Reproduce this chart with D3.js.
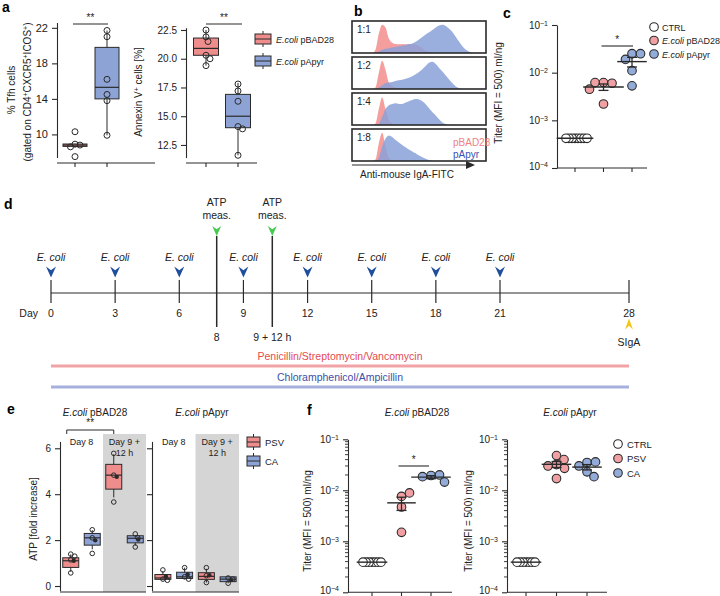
<!DOCTYPE html>
<html>
<head>
<meta charset="utf-8">
<script src="https://cdn.jsdelivr.net/npm/d3@7"></script>
<style>
  body { margin: 0; background: #fff; }
  text { font-family: "Liberation Sans", Arial, Helvetica, sans-serif; }
</style>
</head>
<body>
<svg id="fig" width="720" height="596"></svg>
<script>
// ---------- data ----------

// a: % Tfh cells and Annexin V+ cells (box stats + single mice)
var strainsA = ["pBAD28", "pApyr"];
var tfhTicks = [10, 14, 18, 22];
var tfhStats = [{lo: 8.6, q1: 8.65, med: 8.8, q3: 8.92, hi: 8.95},
                {lo: 9.9, q1: 14.0, med: 15.3, q3: 19.8, hi: 21.7}];
var tfhPBAD28 = [10.3, 8.9, 8.8, 8.6, 7.5];
var tfhPApyr = [21.7, 21.0, 16.2, 14.5, 13.8, 9.9];
var annTicks = [12.5, 15, 17.5, 20, 22.5];
var annStats = [{lo: 19.4, q1: 20.3, med: 20.9, q3: 21.8, hi: 22.5},
                {lo: 11.6, q1: 14.0, med: 15.0, q3: 16.9, hi: 17.9}];
var annPBAD28 = [22.5, 21.9, 21.5, 20.3, 20.0, 19.4];
var annPApyr = [17.8, 17.2, 16.3, 14.1, 13.9, 11.6];

// b: IgA-FITC histograms, relative height per intensity bin (0..40)
var dilutions = ["1:1", "1:2", "1:4", "1:8"];
var histPink11 = [0,0,0,0,0,0,0,0.1,0.6,0.88,0.8,0.45,0.32,0.28,0.27,0.28,0.27,0.28,0.27,0.26,0.22,0.15,0.08,0.04,0.02];
var histBlue11 = [0,0,0,0,0,0,0,0,0.05,0.1,0.13,0.15,0.17,0.19,0.21,0.23,0.25,0.27,0.3,0.35,0.42,0.5,0.58,0.65,0.72,0.8,0.86,0.88,0.84,0.76,0.65,0.5,0.35,0.2,0.1,0.04,0.01];
var histPink12 = [0,0,0,0,0,0,0,0.05,0.5,0.88,0.6,0.2,0.1,0.05];
var histBlue12 = [0,0,0,0,0,0,0,0,0.05,0.12,0.18,0.2,0.22,0.25,0.27,0.29,0.32,0.35,0.4,0.46,0.53,0.62,0.72,0.82,0.85,0.78,0.66,0.55,0.42,0.3,0.18,0.08,0.03];
var histPink14 = [0,0,0,0,0,0,0,0.05,0.5,0.86,0.5,0.15,0.05];
var histBlue14 = [0,0,0,0,0,0,0,0,0.05,0.25,0.5,0.62,0.66,0.68,0.66,0.66,0.7,0.74,0.78,0.81,0.8,0.74,0.65,0.52,0.4,0.3,0.18,0.08,0.03];
var histPink18 = [0,0,0,0,0,0,0,0.05,0.55,0.88,0.45,0.1,0.02];
var histBlue18 = [0,0,0,0,0,0,0,0,0.1,0.45,0.7,0.8,0.75,0.66,0.58,0.5,0.43,0.36,0.3,0.24,0.17,0.12,0.07,0.03,0.01];

// c: IgA titer, log scale
var titerTicks = [1e-4, 1e-3, 1e-2, 1e-1];
var groupsC = ["CTRL", "pBAD28", "pApyr"];
var titerCtrlC = [4.2e-4, 4.2e-4, 4.2e-4, 4.2e-4, 4.2e-4, 4.2e-4, 4.2e-4, 4.2e-4];
var titerPBAD28C = [6.2e-3, 6.0e-3, 6.2e-3, 4.5e-3, 2.2e-3];
var titerPApyrC = [2.5e-2, 2.5e-2, 1.9e-2, 1.1e-2, 5.3e-3];

// d: schedule
var dayTicks = [0, 3, 6, 9, 12, 15, 18, 21, 28];
var coliDays = [0, 3, 6, 9, 12, 15, 18, 21];
var atpDays = [7.75, 10.35];           // schematic spots of the two ATP measurements
var atpLabels = ["8", "9 + 12 h"];
var antibiotics = ["Penicillin/Streptomycin/Vancomycin", "Chloramphenicol/Ampicillin"];

// e: ATP fold increase, order: Day 8 PSV, Day 8 CA, Day 9+12h PSV, Day 9+12h CA
var dayGroups = ["Day 8", "Day 9 + 12 h"];
var dayLines = [["Day 8"], ["Day 9 +", "12 h"]];
var treatments = ["PSV", "CA"];
var atpTicks = [0, 2, 4, 6];
var atpStatsPBAD28 = [{lo: 0.62, q1: 0.81, med: 1.1, q3: 1.23, hi: 1.38},
                      {lo: 1.6, q1: 1.78, med: 2.1, q3: 2.29, hi: 2.43},
                      {lo: 3.86, q1: 4.22, med: 4.83, q3: 5.3, hi: 5.74},
                      {lo: 1.75, q1: 1.88, med: 2.08, q3: 2.19, hi: 2.22}];
var atpPtsPBAD28 = [[0.57, 1.39, 1.14, 1.3], [2.45, 2.1, 1.42], [5.78, 4.83, 3.66], [2.27, 2.1, 1.7]];
var atpStatsPApyr = [{lo: 0.25, q1: 0.29, med: 0.35, q3: 0.5, hi: 0.65},
                     {lo: 0.3, q1: 0.33, med: 0.4, q3: 0.6, hi: 0.8},
                     {lo: 0.15, q1: 0.29, med: 0.42, q3: 0.58, hi: 0.75},
                     {lo: 0.12, q1: 0.19, med: 0.3, q3: 0.4, hi: 0.42}];
var atpPtsPApyr = [[0.7, 0.3, 0.25], [0.8, 0.4, 0.3], [0.8, 0.45, 0.15], [0.35, 0.3, 0.12]];

// f: IgA titer after antibiotics
var groupsF = ["CTRL", "PSV", "CA"];
var titerCtrlF = [3.9e-4, 3.9e-4, 3.9e-4, 3.9e-4, 3.9e-4, 3.9e-4, 3.9e-4];
var titerPBAD28PSV = [7.6e-3, 8.9e-3, 4.7e-3, 1.5e-3];
var titerPBAD28CA = [1.95e-2, 2.0e-2, 1.85e-2, 1.45e-2];
var titerPApyrPSV = [4.8e-2, 4.0e-2, 3.2e-2, 3.0e-2, 2.7e-2, 1.7e-2];
var titerPApyrCA = [3.5e-2, 3.6e-2, 3.0e-2, 2.3e-2, 1.85e-2];

// ---------- styling ----------
var ink = "#2a2a2a";
var pinkFill = "#ef8d8d", blueFill = "#8ea3d5";
var pinkDot = "#f0a0a3", blueDot = "#93abd9";
var histPinkCol = "#f49494", histBlueCol = "#8aa1d8";

var svg = d3.select("#fig");

// ---------- helpers ----------
function rich(sel, parts) {
  parts.forEach(function(p) {
    var t = sel.append("tspan").text(p[0]);
    if (p[1] === "i") t.attr("font-style", "italic");
    if (p[1] === "s") t.attr("baseline-shift", "super").attr("font-size", "70%");
  });
  return sel;
}
function label(g, x, y, parts, size, anchor, color) {
  var t = g.append("text").attr("x", x).attr("y", y).attr("font-size", size || 10)
    .attr("text-anchor", anchor || "start").attr("fill", color || "#222");
  return rich(t, typeof parts === "string" ? [[parts]] : parts);
}
function vlabel(g, x, y, parts, size) {
  var t = g.append("text").attr("transform", "translate(" + x + "," + y + ") rotate(-90)")
    .attr("font-size", size || 10).attr("text-anchor", "middle").attr("fill", "#222");
  return rich(t, typeof parts === "string" ? [[parts]] : parts);
}
function letter(t, x, y) {
  svg.append("text").attr("x", x).attr("y", y).attr("font-size", 14).attr("font-weight", "bold").text(t);
}
function yAxis(g, x, axis, size) {
  var a = g.append("g").attr("transform", "translate(" + x + ",0)")
    .call(axis.tickSize(5).tickPadding(4).tickSizeOuter(0));
  a.attr("font-family", null).attr("font-size", size || 10);
  a.selectAll("path, line").attr("stroke", ink).attr("stroke-width", 1.1);
  a.selectAll("text").attr("fill", "#222");
  return a;
}
function logAxis(g, x, y, minor) {
  var a = yAxis(g, x, d3.axisLeft(y).tickValues(titerTicks).tickFormat(""));
  a.selectAll(".tick text").each(function(d, i) {
    var t = d3.select(this);
    if (i === 0) t.attr("dy", "0.1em");   // keep the lowest label inside the page
    rich(t, [["10"], ["\u2212" + Math.round(-Math.log10(d)), "s"]]);
  });
  if (minor) {
    var vals = [];
    titerTicks.slice(0, -1).forEach(function(k) { d3.range(2, 10).forEach(function(m) { vals.push(m * k); }); });
    a.selectAll(null).data(vals).join("line")
      .attr("x1", -3).attr("x2", 0).attr("y1", y).attr("y2", y)
      .attr("stroke", ink).attr("stroke-width", 0.9);
  }
  return a;
}
function xBase(g, x0, x1, y, ticks) {
  g.append("line").attr("x1", x0).attr("x2", x1).attr("y1", y).attr("y2", y)
    .attr("stroke", ink).attr("stroke-width", 1.1);
  g.selectAll(null).data(ticks).join("line")
    .attr("x1", function(d) { return d; }).attr("x2", function(d) { return d; })
    .attr("y1", y).attr("y2", y + 4).attr("stroke", ink).attr("stroke-width", 1.1);
}
// nudge points sideways until they clear the ones already placed
function swarm(ys, cx, gap) {
  var placed = [];
  return ys.map(function(y) {
    var off = 0, k = 0;
    while (placed.some(function(p) { return Math.hypot(p.x - (cx + off), p.y - y) < gap - 0.01; })) {
      k++;
      off = (k % 2 ? 1 : -1) * Math.ceil(k / 2) * 0.5;
    }
    var p = {x: cx + off, y: y};
    placed.push(p);
    return p;
  });
}
function drawBoxes(g, xs, y, stats, pts, fills, w, r, gap, meanDot) {
  stats.forEach(function(s, i) {
    var cx = xs[i];
    g.append("line").attr("x1", cx).attr("x2", cx).attr("y1", y(s.lo)).attr("y2", y(s.hi))
      .attr("stroke", ink).attr("stroke-width", 1);
    g.append("rect").attr("x", cx - w / 2).attr("y", y(s.q3)).attr("width", w)
      .attr("height", Math.max(1, y(s.q1) - y(s.q3)))
      .attr("fill", fills[i]).attr("stroke", ink).attr("stroke-width", 1);
    g.append("line").attr("x1", cx - w / 2).attr("x2", cx + w / 2).attr("y1", y(s.med)).attr("y2", y(s.med))
      .attr("stroke", ink).attr("stroke-width", 1.2);
    var pos = swarm(pts[i].map(y), cx, gap);
    g.selectAll(null).data(pos).join("circle")
      .attr("cx", function(d) { return d.x; }).attr("cy", function(d) { return d.y; })
      .attr("r", r).attr("fill", "none").attr("stroke", ink).attr("stroke-width", 1);
    if (meanDot) {
      g.append("circle").attr("cx", cx + 3).attr("cy", y(d3.mean(pts[i]))).attr("r", 2.2).attr("fill", ink);
    }
  });
}
function dotPlot(g, xs, y, groups, fills, r, gaps) {
  groups.forEach(function(vals, i) {
    var cx = xs[i];
    var pos = swarm(vals.map(y), cx, gaps[i]);
    g.selectAll(null).data(pos).join("circle")
      .attr("cx", function(d) { return d.x; }).attr("cy", function(d) { return d.y; })
      .attr("r", r).attr("fill", fills[i]).attr("stroke", ink).attr("stroke-width", 1.1);
    var m = d3.mean(vals), se = d3.deviation(vals) / Math.sqrt(vals.length);
    var half = Math.max(10, d3.max(pos, function(d) { return Math.abs(d.x - cx); }) + r + 2);
    g.append("line").attr("x1", cx - half).attr("x2", cx + half).attr("y1", y(m)).attr("y2", y(m))
      .attr("stroke", ink).attr("stroke-width", 1.4);
    if (se > 0) {
      g.append("line").attr("x1", cx).attr("x2", cx).attr("y1", y(m - se)).attr("y2", y(m + se))
        .attr("stroke", ink).attr("stroke-width", 1.3);
      [m - se, m + se].forEach(function(v) {
        g.append("line").attr("x1", cx - 5).attr("x2", cx + 5).attr("y1", y(v)).attr("y2", y(v))
          .attr("stroke", ink).attr("stroke-width", 1.3);
      });
    }
  });
}
function sigBar(g, x1, x2, y, stars) {
  g.append("line").attr("x1", x1).attr("x2", x2).attr("y1", y).attr("y2", y).attr("stroke", ink).attr("stroke-width", 1.1);
  label(g, (x1 + x2) / 2, y - 3, stars, 10, "middle");
}
function boxIcon(g, x, y, fill, w) {
  g.append("line").attr("x1", x + w / 2).attr("x2", x + w / 2).attr("y1", y - 8).attr("y2", y + 8).attr("stroke", ink);
  g.append("rect").attr("x", x).attr("y", y - 5).attr("width", w).attr("height", 10)
    .attr("fill", fill).attr("stroke", ink);
  g.append("line").attr("x1", x).attr("x2", x + w).attr("y1", y).attr("y2", y).attr("stroke", ink);
}
function arrowHead(g, x, y, w, h, color, up) {
  var s = up ? -1 : 1;
  var p = d3.path();
  p.moveTo(x - w / 2, y - s * h / 2);
  p.lineTo(x, y - s * h / 6);
  p.lineTo(x + w / 2, y - s * h / 2);
  p.lineTo(x, y + s * h / 2);
  p.closePath();
  g.append("path").attr("d", p.toString()).attr("fill", color);
}

// ---------- a ----------
letter("a", 2, 12);
var gA = svg.append("g");
var yTfh = d3.scaleLinear().domain([7.4, 22.6]).range([157.5, 22.5]);
var xTfh = d3.scalePoint().domain(strainsA).range([75, 107]);
yAxis(gA, 57, d3.axisLeft(yTfh).tickValues(tfhTicks), 11);
xBase(gA, 57, 155, 163, strainsA.map(xTfh));
drawBoxes(gA, strainsA.map(xTfh), yTfh, tfhStats, [tfhPBAD28, tfhPApyr], [pinkFill, blueFill], 24, 3, 5, false);
sigBar(gA, xTfh("pBAD28") - 2, xTfh("pApyr") + 1, 24, "**");
vlabel(gA, 15, 90, "% Tfh cells");
vlabel(gA, 31, 92, [["(gated on CD4"], ["+", "s"], ["CXCR5"], ["+", "s"], ["ICOS"], ["+", "s"], [")"]]);

var yAnn = d3.scaleLinear().domain([11.4, 22.7]).range([157.6, 27.7]);
var xAnn = d3.scalePoint().domain(strainsA).range([206, 238]);
yAxis(gA, 186, d3.axisLeft(yAnn).tickValues(annTicks).tickFormat(d3.format(".1f")));
xBase(gA, 186, 257, 163, strainsA.map(xAnn));
drawBoxes(gA, strainsA.map(xAnn), yAnn, annStats, [annPBAD28, annPApyr], [pinkFill, blueFill], 25, 3, 5, false);
sigBar(gA, xAnn("pBAD28"), xAnn("pApyr") + 4, 24, "**");
vlabel(gA, 142, 92, [["Annexin V"], ["+", "s"], [" cells [%]"]]);

strainsA.forEach(function(s, i) {
  boxIcon(gA, 255, 39 + i * 22, [pinkFill, blueFill][i], 16);
  label(gA, 276, 42.5 + i * 22, [["E.coli", "i"], [" " + s]], 9);
});

// ---------- b ----------
letter("b", 354, 16);
var gB = svg.append("g");
var histX = d3.scaleLinear().domain([0, 40]).range([352, 486]);
var histPink = [histPink11, histPink12, histPink14, histPink18];
var histBlue = [histBlue11, histBlue12, histBlue14, histBlue18];
dilutions.forEach(function(dil, i) {
  var top = 21 + i * 36, h = 32;
  var hy = d3.scaleLinear().domain([0, 1]).range([top + h, top]);
  var area = d3.area().curve(d3.curveMonotoneX)
    .x(function(d, j) { return histX(j); }).y0(top + h).y1(function(d) { return hy(d); });
  var bins = d3.range(41);
  gB.append("path").datum(bins.map(function(j) { return histPink[i][j] || 0; }))
    .attr("d", area).attr("fill", histPinkCol).attr("opacity", 0.9);
  gB.append("path").datum(bins.map(function(j) { return histBlue[i][j] || 0; }))
    .attr("d", area).attr("fill", histBlueCol).attr("opacity", 0.85);
  gB.append("rect").attr("x", histX(0)).attr("y", top).attr("width", histX(40) - histX(0)).attr("height", h)
    .attr("fill", "none").attr("stroke", ink).attr("stroke-width", 1.6);
  label(gB, 357, top + 12, dil, 10);
});
label(gB, 453, 146, "pBAD28", 10, "start", "#f07f84");
label(gB, 453, 158, "pApyr", 10, "start", "#3a4fb2");
gB.append("line").attr("x1", histX(0)).attr("x2", 468).attr("y1", 165).attr("y2", 165).attr("stroke", ink).attr("stroke-width", 1.2);
gB.append("path").attr("d", "M466,161L475,165L466,169Z").attr("fill", ink);
label(gB, 360, 178, "Anti-mouse IgA-FITC", 10);

// ---------- c ----------
letter("c", 503, 18);
var gC = svg.append("g");
var yC = d3.scaleLog().domain([1e-4, 1e-1]).range([168, 25]);
var xC = d3.scalePoint().domain(groupsC).range([575, 632]);
logAxis(gC, 557, yC, false);
xBase(gC, 557, 647, 168, groupsC.map(xC));
dotPlot(gC, groupsC.map(xC), yC, [titerCtrlC, titerPBAD28C, titerPApyrC], ["#fff", pinkDot, blueDot], 4.3, [2.6, 8.5, 8.5]);
sigBar(gC, xC("pBAD28") - 2, xC("pApyr") + 1, 46, "*");
vlabel(gC, 502, 93, "Titer (MFI = 500) ml/ng");
groupsC.forEach(function(gname, i) {
  gC.append("circle").attr("cx", 654).attr("cy", 27 + i * 13.5).attr("r", 4.3)
    .attr("fill", ["#fff", pinkDot, blueDot][i]).attr("stroke", ink).attr("stroke-width", 1.1);
  label(gC, 662, 30.5 + i * 13.5, i === 0 ? gname : [["E.coli", "i"], [" " + gname]], 9);
});

// ---------- d ----------
letter("d", 4, 209);
var gD = svg.append("g");
var dayX = d3.scaleLinear().domain([0, 21, 28]).range([51, 500, 629]);
var lineY = 293;
gD.append("line").attr("x1", dayX(0)).attr("x2", dayX(28)).attr("y1", lineY).attr("y2", lineY)
  .attr("stroke", ink).attr("stroke-width", 1.2);
dayTicks.forEach(function(d) {
  gD.append("line").attr("x1", dayX(d)).attr("x2", dayX(d)).attr("y1", lineY - 13).attr("y2", lineY + 10)
    .attr("stroke", ink).attr("stroke-width", 1.2);
  label(gD, dayX(d), 316.5, String(d), 10.5, "middle");
});
label(gD, 38, 316.5, "Day", 10.5, "end");
coliDays.forEach(function(d) {
  arrowHead(gD, dayX(d), 272, 10, 11, "#1f4e9e", false);
  label(gD, dayX(d), 261, [["E. coli", "i"]], 10.5, "middle");
});
atpDays.forEach(function(d, i) {
  gD.append("line").attr("x1", dayX(d)).attr("x2", dayX(d)).attr("y1", 236).attr("y2", 327)
    .attr("stroke", ink).attr("stroke-width", 1.5);
  arrowHead(gD, dayX(d), 231, 9, 10, "#45c94f", false);
  label(gD, dayX(d), 206, "ATP", 10.5, "middle");
  label(gD, dayX(d), 219, "meas.", 10.5, "middle");
  label(gD, dayX(d), 340.5, atpLabels[i], 10.5, "middle");
});
arrowHead(gD, dayX(28), 324, 8, 11, "#f5c518", true);
label(gD, dayX(28), 346, "SIgA", 10.5, "middle");
var abColors = [["#e54a4f", "#f2a3a5"], ["#3c4fa6", "#a6b0dd"]];
antibiotics.forEach(function(a, i) {
  var yl = 366 + i * 21;
  gD.append("line").attr("x1", dayX(0)).attr("x2", dayX(28)).attr("y1", yl).attr("y2", yl)
    .attr("stroke", abColors[i][1]).attr("stroke-width", 3);
  label(gD, (dayX(0) + dayX(28)) / 2, yl - 6, a, 10.5, "middle", abColors[i][0]);
});

// ---------- e ----------
letter("e", 7, 414);
var yAtp = d3.scaleLinear().domain([-0.2, 6.3]).range([590.6, 441.4]);
function atpPanel(x0, x1, stats, pts, showLabels, strain, titleX) {
  var g = svg.append("g");
  var dayBand = d3.scaleBand().domain(dayGroups).range([x0, x1]);
  var inner = d3.scaleBand().domain(treatments).range([0, dayBand.bandwidth()]);
  g.append("rect").attr("x", dayBand(dayGroups[1])).attr("y", 434).attr("width", dayBand.bandwidth())
    .attr("height", 592 - 434).attr("fill", "#d5d5d5");
  var ax = d3.axisLeft(yAtp).tickValues(atpTicks).tickFormat(showLabels ? d3.format("d") : "");
  yAxis(g, x0, ax);
  xBase(g, x0, x1, 592, []);
  var xs = [], fills = [];
  dayGroups.forEach(function(d) {
    treatments.forEach(function(t, j) {
      xs.push(dayBand(d) + inner(t) + inner.bandwidth() / 2);
      fills.push([pinkFill, blueFill][j]);
    });
  });
  drawBoxes(g, xs, yAtp, stats, pts, fills, 16, 2.3, 4.5, true);
  dayGroups.forEach(function(d, i) {
    dayLines[i].forEach(function(l, k) {
      label(g, dayBand(d) + dayBand.bandwidth() / 2, 445 + k * 11, l, 9, "middle");
    });
  });
  label(g, titleX, 416, [["E.coli", "i"], [" " + strain]], 10, "middle");
  return xs;
}
var xsE = atpPanel(60, 146, atpStatsPBAD28, atpPtsPBAD28, true, "pBAD28", 95);
atpPanel(152, 239, atpStatsPApyr, atpPtsPApyr, false, "pApyr", 202);
var gE = svg.append("g");
gE.append("path").attr("d", d3.line()([[xsE[0] - 4, 434], [xsE[0] - 4, 430], [xsE[2], 430], [xsE[2], 434]]))
  .attr("fill", "none").attr("stroke", ink).attr("stroke-width", 1);
label(gE, (xsE[0] - 4 + xsE[2]) / 2, 426, "**", 10, "middle");
vlabel(gE, 37, 519, "ATP [fold increase]");
treatments.forEach(function(t, i) {
  boxIcon(gE, 247, 442 + i * 19, [pinkFill, blueFill][i], 13);
  label(gE, 265, 445.5 + i * 19, t, 9.5);
});

// ---------- f ----------
letter("f", 307, 415);
var yF = d3.scaleLog().domain([1e-4, 1e-1]).range([592.3, 439.3]);
function titerPanel(x0, x1, xs0, xs1, groups, strain, titleX, labelX) {
  var g = svg.append("g");
  var x = d3.scalePoint().domain(groupsF).range([xs0, xs1]);
  logAxis(g, x0, yF, true);
  xBase(g, x0, x1, 592.3, groupsF.map(x));
  dotPlot(g, groupsF.map(x), yF, groups, ["#fff", pinkDot, blueDot], 4.3, [2.6, 8.5, 8.5]);
  label(g, titleX, 416, [["E.coli", "i"], [" " + strain]], 10, "middle");
  vlabel(g, labelX, 521, "Titer (MFI = 500) ml/ng");
  return {g: g, x: x};
}
var fL = titerPanel(348, 452, 372, 431, [titerCtrlF, titerPBAD28PSV, titerPBAD28CA], "pBAD28", 417, 311);
sigBar(fL.g, fL.x("PSV") - 3, fL.x("CA") - 2, 466, "*");
titerPanel(507, 607, 526, 587, [titerCtrlF, titerPApyrPSV, titerPApyrCA], "pApyr", 570, 472);
var gF = svg.append("g");
groupsF.forEach(function(gname, i) {
  gF.append("circle").attr("cx", 618).attr("cy", 444 + i * 14.5).attr("r", 4.3)
    .attr("fill", ["#fff", pinkDot, blueDot][i]).attr("stroke", ink).attr("stroke-width", 1.1);
  label(gF, 627, 447.5 + i * 14.5, gname, 9.5);
});
</script>
</body>
</html>
